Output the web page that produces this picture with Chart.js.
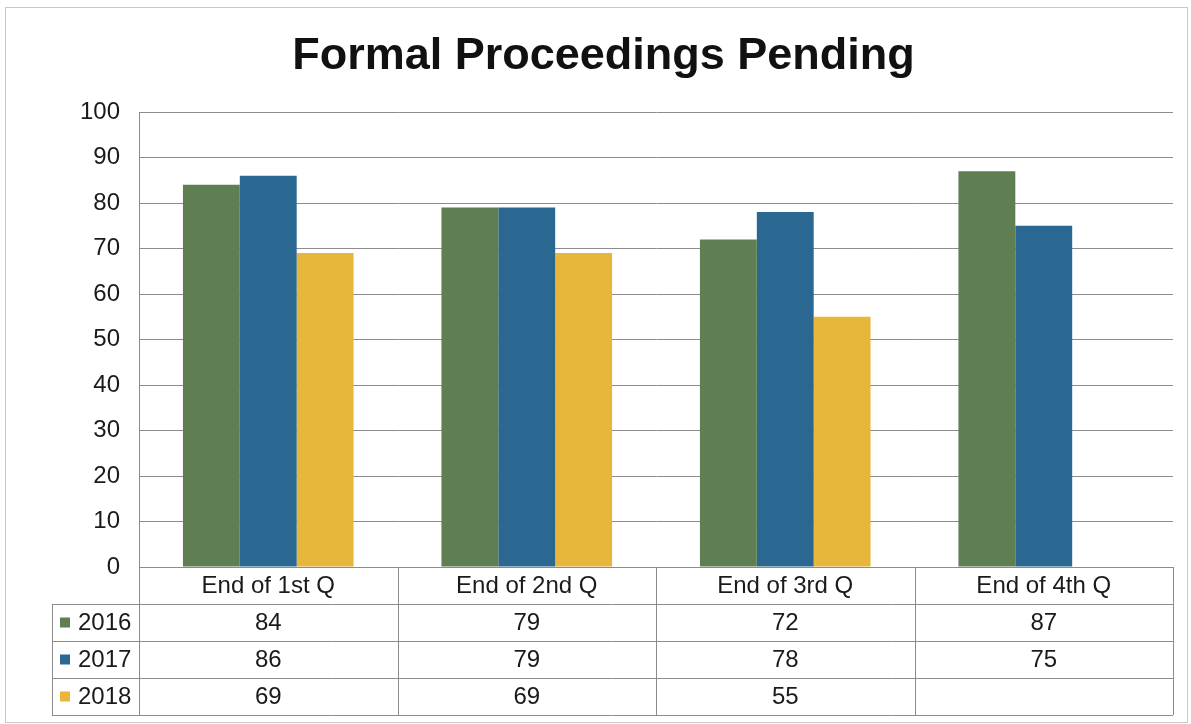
<!DOCTYPE html>
<html>
<head>
<title>Formal Proceedings Pending</title>
<script src="https://cdn.jsdelivr.net/npm/chart.js@4.4.1/dist/chart.umd.min.js"></script>
<style>
  html, body { margin: 0; padding: 0; background: #fff; }
  #wrap { position: relative; width: 1191px; height: 724px; }
</style>
</head>
<body>
<div id="wrap"><canvas id="myChart"></canvas></div>
<script>
var categories = ['End of 1st Q', 'End of 2nd Q', 'End of 3rd Q', 'End of 4th Q'];
var seriesNames = ['2016', '2017', '2018'];
var values2016 = [84, 79, 72, 87];
var values2017 = [86, 79, 78, 75];
var values2018 = [69, 69, 55, null];
var colors = ['#5f7f53', '#2a6891', '#e8b63a'];
var yTicks = [0, 10, 20, 30, 40, 50, 60, 70, 80, 90, 100];

var allValues = [values2016, values2017, values2018];
var fontFam = '"Liberation Sans", Arial, sans-serif';

// outer frame
var framePlugin = {
  id: 'frame',
  beforeDraw: function(chart) {
    var c = chart.ctx;
    c.save();
    c.fillStyle = '#fff';
    c.fillRect(0, 0, chart.width, chart.height);
    c.strokeStyle = '#c8c8c8';
    c.lineWidth = 1;
    c.strokeRect(5.5, 7.5, chart.width - 9, chart.height - 9);
    c.restore();
  }
};

// data table under the plot, like an Excel chart
var tablePlugin = {
  id: 'dataTable',
  afterDraw: function(chart) {
    var c = chart.ctx;
    var ca = chart.chartArea;
    var xs = chart.scales.x;
    var rowH = 37;
    var leftX = 52;
    var n = categories.length;
    var catW = (ca.right - ca.left) / n;
    var top = ca.bottom;
    var bottom = top + rowH * (seriesNames.length + 1);
    c.save();
    c.strokeStyle = '#8c8c8c';
    c.lineWidth = 1;
    c.beginPath();
    c.moveTo(ca.left, Math.round(top) + 0.5);
    c.lineTo(ca.right, Math.round(top) + 0.5);
    for (var r = 1; r <= seriesNames.length + 1; r++) {
      var yy = Math.round(top + rowH * r) + 0.5;
      c.moveTo(leftX, yy);
      c.lineTo(ca.right, yy);
    }
    for (var i = 0; i <= n; i++) {
      var xx = Math.round(xs.getPixelForValue(i) - catW / 2) + 0.5;
      if (i === n) xx = Math.round(ca.right) + 0.5;
      c.moveTo(xx, top);
      c.lineTo(xx, bottom);
    }
    c.moveTo(leftX + 0.5, top + rowH);
    c.lineTo(leftX + 0.5, bottom);
    c.stroke();

    c.fillStyle = '#1a1a1a';
    c.font = '24px ' + fontFam;
    c.textAlign = 'center';
    c.textBaseline = 'middle';
    for (var j = 0; j < n; j++) {
      var cx = xs.getPixelForValue(j);
      c.fillText(categories[j], cx, top + rowH / 2 + 1);
      for (var s = 0; s < seriesNames.length; s++) {
        var v = allValues[s][j];
        if (v !== null && v !== undefined) {
          c.fillText(String(v), cx, top + rowH * (s + 1.5) + 1);
        }
      }
    }
    c.textAlign = 'left';
    for (var k = 0; k < seriesNames.length; k++) {
      var cy = top + rowH * (k + 1.5);
      c.fillStyle = colors[k];
      c.fillRect(leftX + 8, cy - 5, 10, 10);
      c.fillStyle = '#1a1a1a';
      c.fillText(seriesNames[k], leftX + 26, cy + 1);
    }
    c.restore();
  }
};

var ctx = document.getElementById('myChart').getContext('2d');
var chart = new Chart(ctx, {
  type: 'bar',
  data: {
    labels: categories,
    datasets: seriesNames.map(function(name, i) {
      return { label: name, data: allValues[i], backgroundColor: colors[i], borderWidth: 0 };
    })
  },
  options: {
    responsive: true,
    maintainAspectRatio: false,
    animation: false,
    devicePixelRatio: 1,
    layout: { padding: { top: 10, right: 18, bottom: 157, left: 34 } },
    datasets: { bar: { categoryPercentage: 0.66, barPercentage: 1.0 } },
    plugins: {
      legend: { display: false },
      tooltip: { enabled: false },
      title: {
        display: true,
        text: 'Formal Proceedings Pending',
        color: '#111',
        font: { family: fontFam, size: 45, weight: 'bold' },
        padding: { top: 20, bottom: 28 }
      }
    },
    scales: {
      x: {
        display: false
      },
      y: {
        min: 0,
        max: 100,
        afterBuildTicks: function(scale) {
          scale.ticks = yTicks.map(function(v) { return { value: v }; });
        },
        afterFit: function(scale) { scale.width = 105; },
        border: { display: true, color: '#8c8c8c' },
        grid: { color: '#8c8c8c', drawTicks: false },
        ticks: {
          padding: 19,
          color: '#1a1a1a',
          font: { family: fontFam, size: 24 }
        }
      }
    }
  },
  plugins: [framePlugin, tablePlugin]
});
</script>
</body>
</html>
